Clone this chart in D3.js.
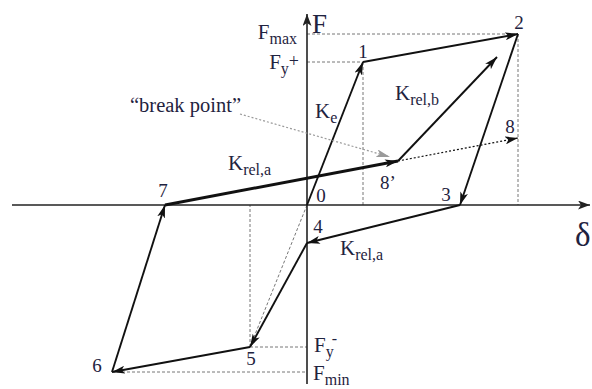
<!DOCTYPE html>
<html>
<head>
<meta charset="utf-8">
<script src="https://cdn.jsdelivr.net/npm/d3@7"></script>
<style>
  html, body { margin: 0; padding: 0; background: #fff; }
  svg { display: block; }
</style>
</head>
<body>
<svg id="chart" width="592" height="389"></svg>
<script>
// Hysteresis path points: name, displacement (delta), force (F)
const pointNames = ["0", "1", "2", "3", "4", "5", "6", "7", "8\u2019", "8"];
const deltaValues = [0, 5.6, 21.1, 15.3, 0, -5.7, -19.5, -14.2, 9.1, 21.1];
const forceValues = [0, 14.3, 17.1, 0, -3.8, -14.2, -16.7, 0, 4.4, 6.7];

// Tip of the reloading branch K_rel,b starting from 8'
const relbTip = { delta: 19.0, F: 14.8 };

// Axis extents
const deltaDomain = [-29.5, 28.3];
const forceDomain = [-17.9, 19.1];

const x = d3.scaleLinear().domain(deltaDomain).range([12, 590]);
const y = d3.scaleLinear().domain(forceDomain).range([384, 14]);

const P = {};
pointNames.forEach((n, i) => { P[n] = { d: deltaValues[i], f: forceValues[i] }; });
const px = p => x(p.d), py = p => y(p.f);
const BP = "8\u2019";

const svg = d3.select("#chart")
  .attr("font-family", "'Liberation Serif', serif");
const defs = svg.append("defs");
const textColor = "#1f2340";

function marker(id, color, len, wid) {
  defs.append("marker")
    .attr("id", id)
    .attr("viewBox", `0 0 ${len} ${wid}`)
    .attr("refX", len).attr("refY", wid / 2)
    .attr("markerWidth", len).attr("markerHeight", wid)
    .attr("markerUnits", "userSpaceOnUse")
    .attr("orient", "auto")
    .append("path")
    .attr("d", `M0,0 L${len},${wid / 2} L0,${wid} L${len * 0.25},${wid / 2} Z`)
    .attr("fill", color);
}
marker("head", "#111", 13, 8);
marker("axisHead", "#222", 12, 9);
marker("grayHead", "#9a9a9a", 14, 8);

// Dashed guide lines
const guide = svg.append("g")
  .attr("stroke", "#777").attr("stroke-width", 1)
  .attr("stroke-dasharray", "3,2").attr("fill", "none");

const guides = [
  [{ d: 0, f: P["2"].f }, P["2"]],
  [{ d: 0, f: P["1"].f }, P["1"]],
  [P["1"], { d: P["1"].d, f: 0 }],
  [P["2"], { d: P["2"].d, f: 0 }],
  [P["5"], { d: 0, f: P["5"].f }],
  [P["6"], { d: 0, f: P["6"].f }],
  [P["5"], { d: P["5"].d, f: 0 }],
  [P["0"], P["5"]]
];
guides.forEach(([a, b]) => {
  guide.append("line")
    .attr("x1", px(a)).attr("y1", py(a))
    .attr("x2", px(b)).attr("y2", py(b));
});

// Axes
const axes = svg.append("g").attr("stroke", "#222").attr("stroke-width", 1.6);
axes.append("line")
  .attr("x1", x(deltaDomain[0])).attr("y1", y(0))
  .attr("x2", x(deltaDomain[1])).attr("y2", y(0))
  .attr("marker-end", "url(#axisHead)");
axes.append("line")
  .attr("x1", x(0)).attr("y1", y(forceDomain[0]))
  .attr("x2", x(0)).attr("y2", y(forceDomain[1]))
  .attr("marker-end", "url(#axisHead)");

// Hysteresis branches
const branches = [
  ["0", "1", 1.9],
  ["1", "2", 1.9],
  ["2", "3", 1.9],
  ["3", "4", 1.9],
  ["4", "5", 1.9],
  ["5", "6", 1.9],
  ["6", "7", 1.9],
  ["7", BP, 2.9]
];
const paths = svg.append("g").attr("stroke", "#111").attr("fill", "none");
branches.forEach(([a, b, w]) => {
  paths.append("line")
    .attr("x1", px(P[a])).attr("y1", py(P[a]))
    .attr("x2", px(P[b])).attr("y2", py(P[b]))
    .attr("stroke-width", w)
    .attr("marker-end", "url(#head)");
});
// K_rel,b branch
paths.append("line")
  .attr("x1", px(P[BP])).attr("y1", py(P[BP]))
  .attr("x2", x(relbTip.delta)).attr("y2", y(relbTip.F))
  .attr("stroke-width", 1.9)
  .attr("marker-end", "url(#head)");
// Dotted continuation 8' -> 8
paths.append("line")
  .attr("x1", px(P[BP])).attr("y1", py(P[BP]))
  .attr("x2", px(P["8"])).attr("y2", py(P["8"]))
  .attr("stroke-width", 1.2)
  .attr("stroke-dasharray", "2,2")
  .attr("marker-end", "url(#head)");

// "break point" pointer
svg.append("line")
  .attr("x1", 240).attr("y1", 114)
  .attr("x2", px(P[BP]) - 8).attr("y2", py(P[BP]) - 4)
  .attr("stroke", "#9a9a9a").attr("stroke-width", 1.2)
  .attr("stroke-dasharray", "2,2")
  .attr("marker-end", "url(#grayHead)");

// Point labels
const pointLabels = [
  { n: "0", dx: 14, dy: -3 },
  { n: "1", dx: 0, dy: -4 },
  { n: "2", dx: 1, dy: -5 },
  { n: "3", dx: -14, dy: -4 },
  { n: "4", dx: 11, dy: -10 },
  { n: "5", dx: 1, dy: 18 },
  { n: "6", dx: -15, dy: 0 },
  { n: "7", dx: -2, dy: -8 },
  { n: BP, dx: -10, dy: 28 },
  { n: "8", dx: -8, dy: -5 }
];
svg.append("g").selectAll("text").data(pointLabels).join("text")
  .attr("x", d => px(P[d.n]) + d.dx)
  .attr("y", d => py(P[d.n]) + d.dy)
  .attr("text-anchor", "middle")
  .attr("font-size", 19)
  .attr("fill", textColor)
  .text(d => d.n);

// Axis titles
svg.append("text").attr("x", 312).attr("y", 33).attr("font-size", 27)
  .attr("fill", textColor).text("F");
svg.append("text").attr("x", 575).attr("y", 246).attr("font-size", 33)
  .attr("fill", textColor).text("δ");

// Labels with subscripts
function subLabel(xp, yp, main, sub, extra, anchor) {
  const t = svg.append("text").attr("x", xp).attr("y", yp)
    .attr("fill", textColor)
    .attr("font-size", 21).attr("text-anchor", anchor || "start");
  t.append("tspan").text(main);
  t.append("tspan").attr("dy", 5).attr("font-size", 16).text(sub);
  if (extra) t.append("tspan").attr("dy", extra.dy).attr("dx", extra.dx || 0)
    .attr("font-size", extra.size).text(extra.text);
  return t;
}
// Force levels
subLabel(297, y(P["2"].f) + 5, "F", "max", null, "end");
subLabel(299, y(P["1"].f) + 7, "F", "y", { text: "+", dy: -7, size: 18 }, "end");
subLabel(314, y(P["5"].f) + 5, "F", "y", { text: "-", dy: -13, dx: -2, size: 16 });
subLabel(313, y(P["6"].f) + 8, "F", "min");

// Stiffness labels
subLabel(315, 118, "K", "e");
subLabel(395, 100, "K", "rel,b");
subLabel(228, 170, "K", "rel,a");
subLabel(340, 255, "K", "rel,a");

svg.append("text").attr("x", 130).attr("y", 112).attr("font-size", 20.5)
  .attr("fill", textColor)
  .text("\u201Cbreak point\u201D");
</script>
</body>
</html>
